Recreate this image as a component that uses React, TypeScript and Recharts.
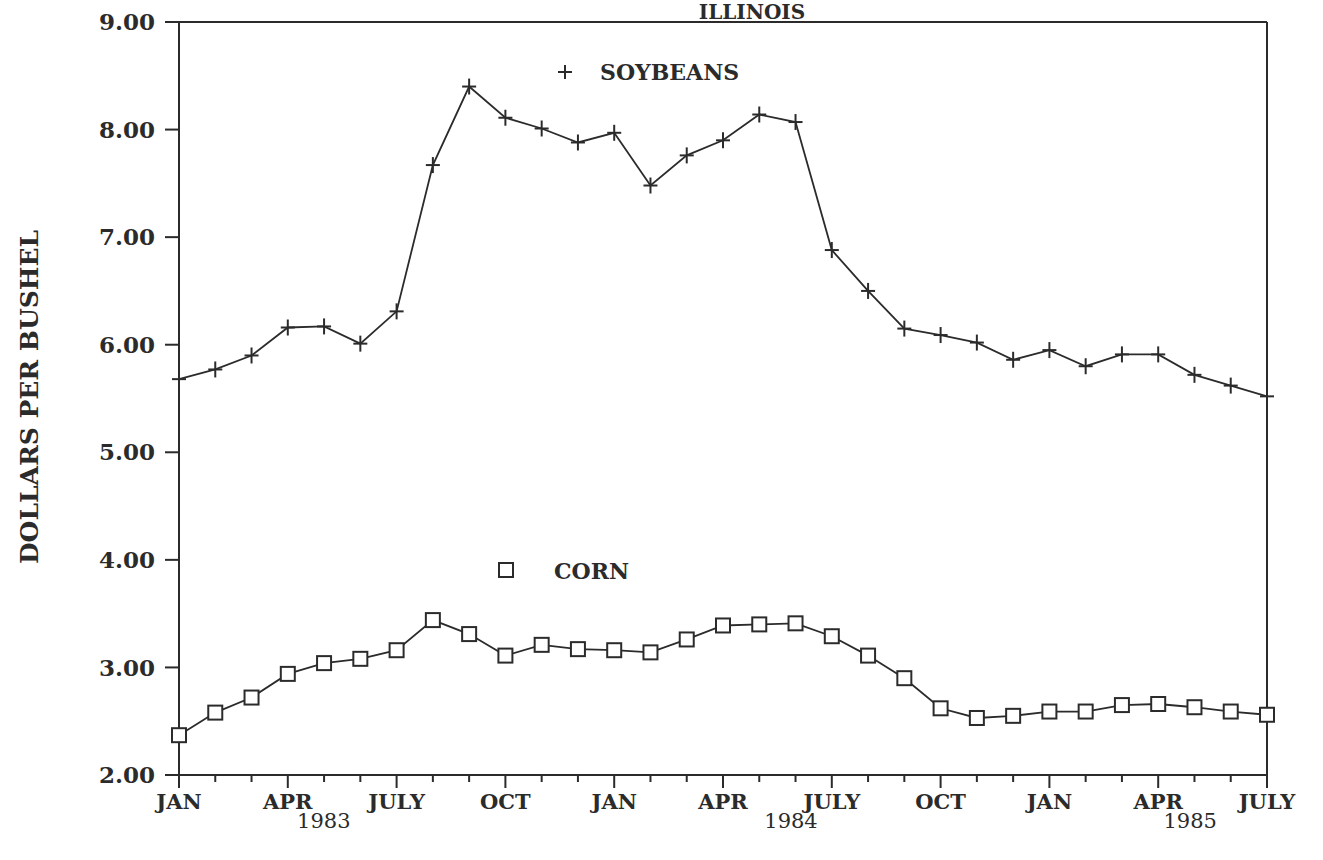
import React from "react";
import {
  LineChart,
  Line,
  XAxis,
  YAxis,
  ReferenceLine,
  Customized,
} from "recharts";

// months Jan 1983 .. July 1985, one point each
const monthIndex = Array.from({ length: 31 }, (_, i) => i);
const monthNames = ["JAN", "APR", "JULY", "OCT"];
const yearLabels: Record<number, [string, number]> = {
  3: ["1983", 36],
  15: ["1984", 68],
  27: ["1985", 32],
};

const soybeans = [
  5.68, 5.77, 5.9, 6.16, 6.17, 6.01, 6.31, 7.67, 8.4, 8.11, 8.01, 7.88, 7.97,
  7.48, 7.76, 7.9, 8.14, 8.07, 6.88, 6.5, 6.15, 6.09, 6.02, 5.86, 5.95, 5.8,
  5.91, 5.91, 5.72, 5.62, 5.52,
];
const corn = [
  2.37, 2.58, 2.72, 2.94, 3.04, 3.08, 3.16, 3.44, 3.31, 3.11, 3.21, 3.17, 3.16,
  3.14, 3.26, 3.39, 3.4, 3.41, 3.29, 3.11, 2.9, 2.62, 2.53, 2.55, 2.59, 2.59,
  2.65, 2.66, 2.63, 2.59, 2.56,
];
const yTicks = [2, 3, 4, 5, 6, 7, 8, 9];

const data = monthIndex.map((i) => ({ i, soy: soybeans[i], corn: corn[i] }));

const INK = "#2b2b2b";
const FONT = "'DejaVu Serif', serif";

const MonthTick = (props: any) => {
  const { x, y, payload } = props;
  const i = payload.value as number;
  const major = i % 3 === 0;
  const year = yearLabels[i];
  return (
    <g>
      <line x1={x} x2={x} y1={y} y2={y + (major ? 13 : 7)} stroke={INK} strokeWidth={2} />
      {major && (
        <text x={x} y={y + 34} textAnchor="middle" fontFamily={FONT} fontWeight="bold" fontSize={21} fill={INK}>
          {monthNames[(i / 3) % 4]}
        </text>
      )}
      {year && (
        <text x={x + year[1]} y={y + 53} textAnchor="middle" fontFamily={FONT} fontSize={21} fill={INK}>
          {year[0]}
        </text>
      )}
    </g>
  );
};

const PlusDot = (props: any) => {
  const { cx, cy } = props;
  return (
    <g>
      <line x1={cx - 7} x2={cx + 7} y1={cy} y2={cy} stroke={INK} strokeWidth={2} />
      <line x1={cx} x2={cx} y1={cy - 8} y2={cy + 8} stroke={INK} strokeWidth={2} />
    </g>
  );
};

const SquareDot = (props: any) => {
  const { cx, cy } = props;
  return <rect x={cx - 7} y={cy - 7} width={14} height={14} fill="#fff" stroke={INK} strokeWidth={2} />;
};

const Annotations = () => (
  <g fontFamily={FONT} fontWeight="bold" fill={INK}>
    <text x={752} y={19} textAnchor="middle" fontSize={20}>ILLINOIS</text>
    <line x1={708} x2={797} y1={22} y2={22} stroke={INK} strokeWidth={1.5} />
    <text transform="translate(38,397) rotate(-90)" textAnchor="middle" fontSize={25}>
      DOLLARS PER BUSHEL
    </text>
    <line x1={558} x2={572} y1={72} y2={72} stroke={INK} strokeWidth={2} />
    <line x1={565} x2={565} y1={65} y2={79} stroke={INK} strokeWidth={2} />
    <text x={600} y={80} fontSize={22}>SOYBEANS</text>
    <rect x={499} y={563} width={14} height={14} fill="#fff" stroke={INK} strokeWidth={2} />
    <text x={554} y={579} fontSize={22}>CORN</text>
  </g>
);

export default function App() {
  return (
    <div style={{ position: "absolute", left: 0, top: 0, width: 1323, height: 860, background: "#fff" }}>
      <LineChart width={1323} height={860} data={data} margin={{ top: 22, right: 56, bottom: 0, left: 0 }}>
        <XAxis
          dataKey="i"
          type="number"
          domain={[0, 30]}
          ticks={monthIndex}
          interval={0}
          height={85}
          tickSize={0}
          tickMargin={0}
          tickLine={false}
          axisLine={{ stroke: INK, strokeWidth: 2 }}
          tick={<MonthTick />}
        />
        <YAxis
          type="number"
          domain={[2, 9]}
          ticks={yTicks}
          width={179}
          tickSize={14}
          tickMargin={10}
          tickFormatter={(v: number) => v.toFixed(2)}
          axisLine={{ stroke: INK, strokeWidth: 2 }}
          tickLine={{ stroke: INK, strokeWidth: 2 }}
          tick={{ fontFamily: FONT, fontWeight: "bold", fontSize: 23, fill: INK }}
        />
        <ReferenceLine y={9} stroke={INK} strokeWidth={2} />
        <ReferenceLine x={30} stroke={INK} strokeWidth={2} />
        <Line
          dataKey="soy"
          stroke={INK}
          strokeWidth={1.8}
          dot={<PlusDot />}
          isAnimationActive={false}
        />
        <Line
          dataKey="corn"
          stroke={INK}
          strokeWidth={1.8}
          dot={<SquareDot />}
          isAnimationActive={false}
        />
        <Customized component={<Annotations />} />
      </LineChart>
    </div>
  );
}
